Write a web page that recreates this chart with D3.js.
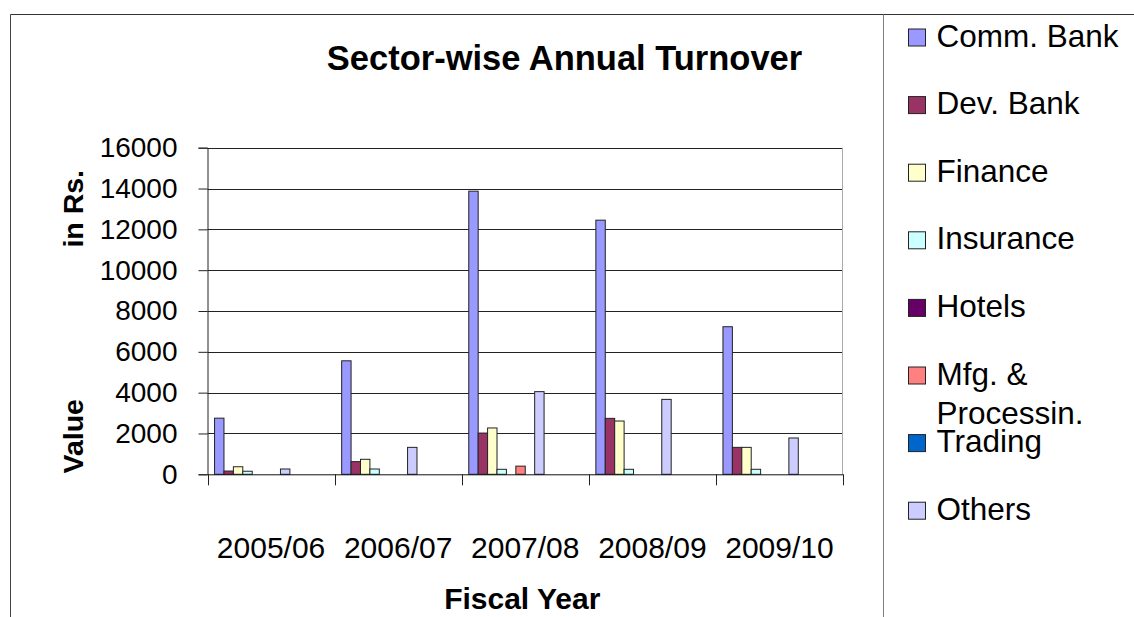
<!DOCTYPE html>
<html>
<head>
<meta charset="utf-8">
<script src="https://cdn.jsdelivr.net/npm/d3@7/dist/d3.min.js"></script>
<style>
  html, body { margin: 0; padding: 0; background: #fff; }
  svg { display: block; font-family: "Liberation Sans", Arial, sans-serif; }
</style>
</head>
<body>
<svg id="chart" width="1134" height="617"></svg>
<script>
const years = ["2005/06", "2006/07", "2007/08", "2008/09", "2009/10"];
const seriesNames = ["Comm. Bank", "Dev. Bank", "Finance", "Insurance", "Hotels", "Mfg. & Processin.", "Trading", "Others"];
const legendLines = [["Comm. Bank"], ["Dev. Bank"], ["Finance"], ["Insurance"], ["Hotels"], ["Mfg. &", "Processin."], ["Trading"], ["Others"]];
const commBank  = [2750, 5560, 13870, 12450, 7230];
const devBank   = [160, 620, 2020, 2740, 1320];
const finance   = [370, 735, 2270, 2610, 1320];
const insurance = [150, 260, 245, 245, 245];
const hotels    = [0, 0, 0, 0, 0];
const mfg       = [0, 0, 400, 0, 0];
const trading   = [0, 0, 0, 0, 0];
const others    = [260, 1320, 4050, 3670, 1780];
const seriesValues = [commBank, devBank, finance, insurance, hotels, mfg, trading, others];
const colors = ["#9999FF", "#993366", "#FFFFCC", "#CCFFFF", "#660066", "#FF8080", "#0066CC", "#CCCCFF"];
const yTicks = [0, 2000, 4000, 6000, 8000, 10000, 12000, 14000, 16000];

const svg = d3.select("#chart");

// outer frame lines
svg.append("line").attr("x1", 10.5).attr("x2", 1134).attr("y1", 14.5).attr("y2", 14.5).attr("stroke", "#333");
svg.append("line").attr("x1", 10.5).attr("x2", 10.5).attr("y1", 14.5).attr("y2", 617).attr("stroke", "#444");
svg.append("line").attr("x1", 883.5).attr("x2", 883.5).attr("y1", 14.5).attr("y2", 617).attr("stroke", "#808080");

const pLeft = 207.5, pRight = 843, pTop = 147.7, pBottom = 474.3;

const x0 = d3.scaleBand().domain(years).range([pLeft, pRight]).padding(0);
const step = x0.bandwidth() / 13.5;
const off = 0.75 * step;
const x1 = d3.scaleBand().domain(seriesNames).range([off, off + step * seriesNames.length]).padding(0);
const y = d3.scaleLinear().domain([0, 16000]).range([pBottom, pTop]);

// gridlines
svg.append("g").selectAll("line").data(yTicks.filter(d => d > 0)).join("line")
  .attr("x1", pLeft).attr("x2", pRight)
  .attr("y1", d => Math.round(y(d)) + 0.5).attr("y2", d => Math.round(y(d)) + 0.5)
  .attr("stroke", "#222").attr("stroke-width", 1);

// plot right border
svg.append("line").attr("x1", pRight - 0.5).attr("x2", pRight - 0.5).attr("y1", pTop).attr("y2", pBottom)
  .attr("stroke", "#aaa");

// bars
const barData = [];
seriesNames.forEach((s, si) => {
  years.forEach((yr, yi) => {
    const v = seriesValues[si][yi];
    if (v > 0) barData.push({ s, si, yr, v });
  });
});
svg.append("g").selectAll("rect").data(barData).join("rect")
  .attr("x", d => x0(d.yr) + x1(d.s))
  .attr("y", d => y(d.v))
  .attr("width", x1.bandwidth())
  .attr("height", d => y(0) - y(d.v))
  .attr("fill", d => colors[d.si])
  .attr("stroke", "#222").attr("stroke-width", 1);

// y axis
const yAxis = d3.axisLeft(y).tickValues(yTicks).tickSize(9).tickPadding(21).tickFormat(d3.format("d"));
const gy = svg.append("g").attr("transform", `translate(${pLeft},0)`).call(yAxis);
gy.select(".domain").attr("stroke", "#222");
gy.selectAll(".tick line").attr("stroke", "#222");
gy.selectAll("text").attr("font-size", 28).attr("fill", "#000")
  .attr("font-family", "Liberation Sans, Arial, sans-serif");

// x axis
const xAxis = d3.axisBottom(x0).tickSize(0).tickPadding(0);
const gx = svg.append("g").attr("transform", `translate(0,${pBottom})`).call(xAxis);
gx.select(".domain").attr("stroke", "#111");
gx.selectAll("text").attr("font-size", 30).attr("fill", "#000").attr("dy", null).attr("y", 83.5)
  .attr("font-family", "Liberation Sans, Arial, sans-serif");
// boundary tick marks
const boundaries = years.map(d => x0(d)).concat([pRight]);
gx.append("g").selectAll("line").data(boundaries).join("line")
  .attr("x1", d => Math.round(d) + 0.5).attr("x2", d => Math.round(d) + 0.5)
  .attr("y1", 0).attr("y2", 11).attr("stroke", "#222");

// title
svg.append("text").attr("x", 564.5).attr("y", 70).attr("text-anchor", "middle")
  .attr("font-size", 34.5).attr("font-weight", "bold").text("Sector-wise Annual Turnover");

// axis titles
svg.append("text").attr("x", (pLeft + pRight) / 2 - 3).attr("y", 609).attr("text-anchor", "middle")
  .attr("font-size", 30).attr("font-weight", "bold").text("Fiscal Year");
svg.append("text").attr("transform", "translate(83,473.5) rotate(-90)").attr("text-anchor", "start")
  .attr("font-size", 28.5).attr("font-weight", "bold").text("Value");
svg.append("text").attr("transform", "translate(83,170) rotate(-90)").attr("text-anchor", "end")
  .attr("font-size", 28.5).attr("font-weight", "bold").text("in Rs.");

// legend
const lg = svg.append("g").selectAll("g").data(seriesNames).join("g")
  .attr("transform", (d, i) => `translate(908.5,${46.5 + i * 67.6})`);
lg.append("rect").attr("x", 0).attr("y", -17.5).attr("width", 17).attr("height", 17)
  .attr("fill", (d, i) => colors[i]).attr("stroke", "#222");
lg.append("text").attr("x", 28).attr("y", 0).attr("font-size", 31.5)
  .each(function(d, i) {
    const t = d3.select(this);
    legendLines[i].forEach((ln, k) => {
      t.append("tspan").attr("x", 28).attr("dy", k === 0 ? 0 : 39).text(ln);
    });
  });
</script>
</body>
</html>
